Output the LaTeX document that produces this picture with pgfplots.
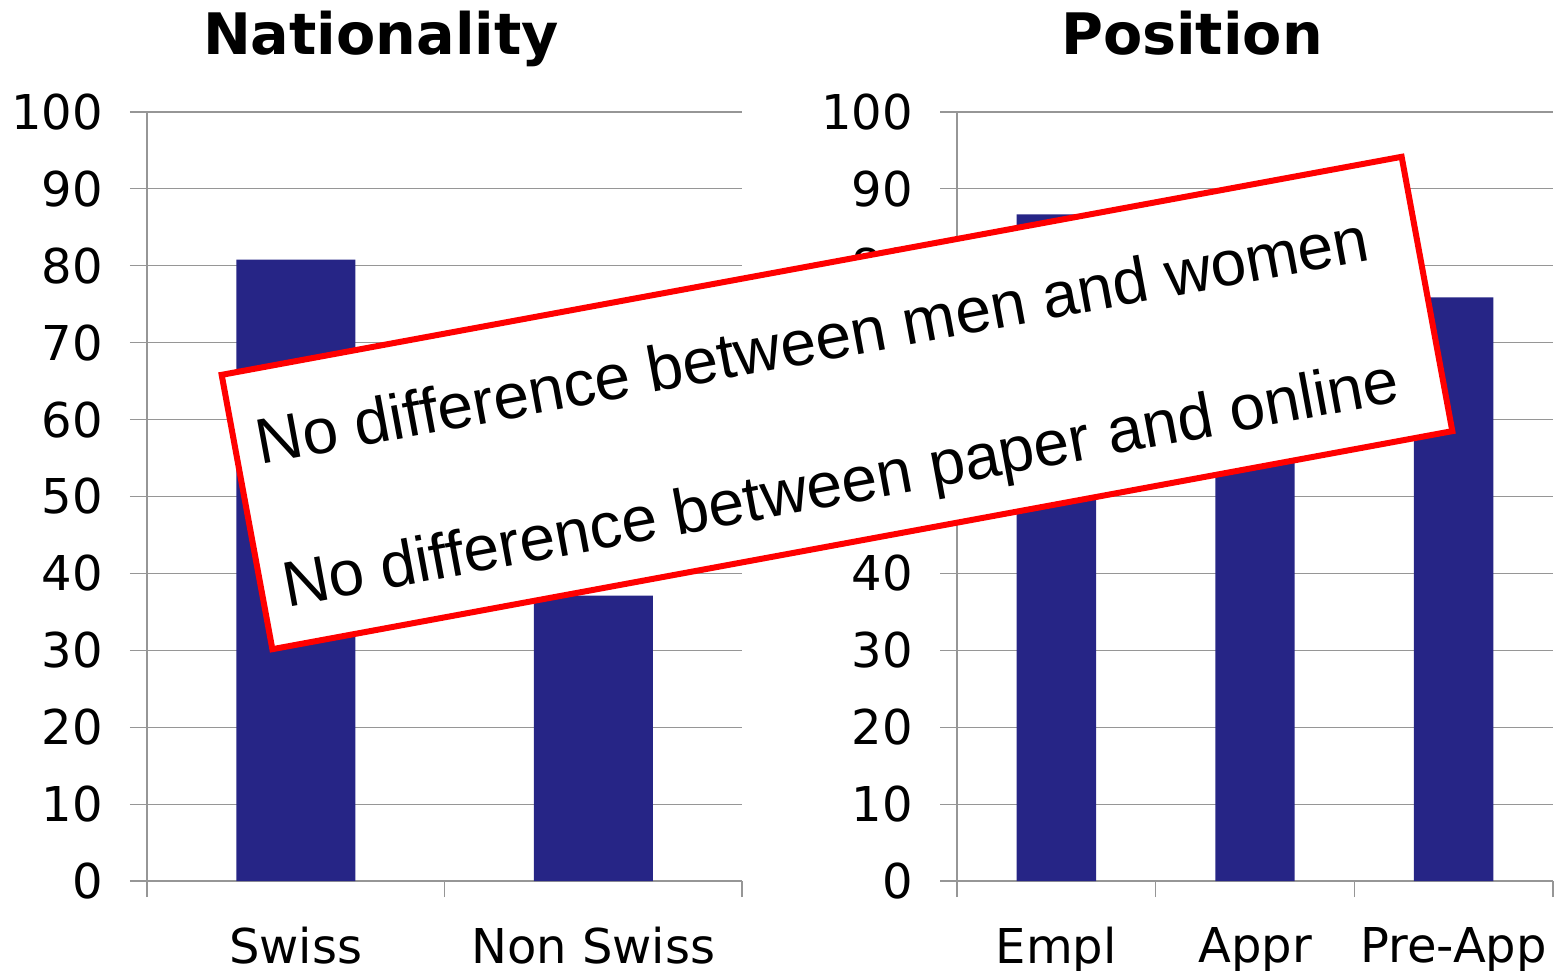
\documentclass[border=0pt]{standalone}
\usepackage{pgfplots}
\pgfplotsset{compat=1.18}
\usepackage{fontspec}
\setmainfont{DejaVu Sans}
\newfontfamily\arialfont{Liberation Sans}
\definecolor{barblue}{RGB}{38,37,134}
\definecolor{gridgray}{RGB}{150,150,150}

\pgfplotsset{
  panel/.style={
    scale only axis,
    height=384.5pt,
    ymin=0, ymax=100,
    ytick={0,10,...,100},
    axis x line*=bottom, axis y line*=left,
    axis line style={gridgray, line width=0.6pt, -},
    ymajorgrids,
    grid style={gridgray, line width=0.6pt},
    tick align=outside,
    major tick length=8.5pt,
    minor tick length=8pt,
    tick style={gridgray, line width=0.6pt},
    major x tick style={draw=none},
    ybar, bar width=0.4,
    /pgf/number format/assume math mode=true,
    tick label style={font=\fontsize{24}{28}\selectfont},
    xticklabel style={yshift=-11pt},
    yticklabel style={xshift=-10pt},
  }
}

\begin{document}
\begin{tikzpicture}
\useasboundingbox (0,0) rectangle (782pt,485pt);

% left panel
\begin{axis}[panel,
    at={(73.5pt,44.5pt)}, anchor=south west,
    width=297.5pt,
    xmin=0.5, xmax=2.5,
    xtick={1,2}, xticklabels={Swiss, Non Swiss},
    minor xtick={0.5,1.5,2.5}]
\addplot[fill=barblue, draw=none] coordinates {(1,80.8) (2,37.1)};
\end{axis}

% right panel
\begin{axis}[panel,
    at={(478.5pt,44.5pt)}, anchor=south west,
    width=298pt,
    xmin=0.5, xmax=3.5,
    xtick={1,2,3}, xticklabels={Empl, Appr, Pre-App},
    minor xtick={0.5,1.5,2.5,3.5}]
\addplot[fill=barblue, draw=none] coordinates {(1,86.7) (2,80) (3,75.9)};
\end{axis}

\node[anchor=base, font=\bfseries\fontsize{28.6}{34}\selectfont] at (190.5pt,457.5pt) {Nationality};
\node[anchor=base, font=\bfseries\fontsize{28.6}{34}\selectfont] at (596pt,457.5pt) {Position};

% annotation box
\node[draw=red, line width=3pt, fill=white, rotate=10.47,
      minimum width=600pt, minimum height=139.5pt, inner sep=0pt] at (418.5pt,283.5pt) {};
\node[rotate=10.47, inner sep=0pt, align=left,
      font=\arialfont\fontsize{32}{38.4}\selectfont] at (414.2pt,276.6pt)
  {No difference between men and women\\[34pt]No difference between paper and online};
\end{tikzpicture}
\end{document}
